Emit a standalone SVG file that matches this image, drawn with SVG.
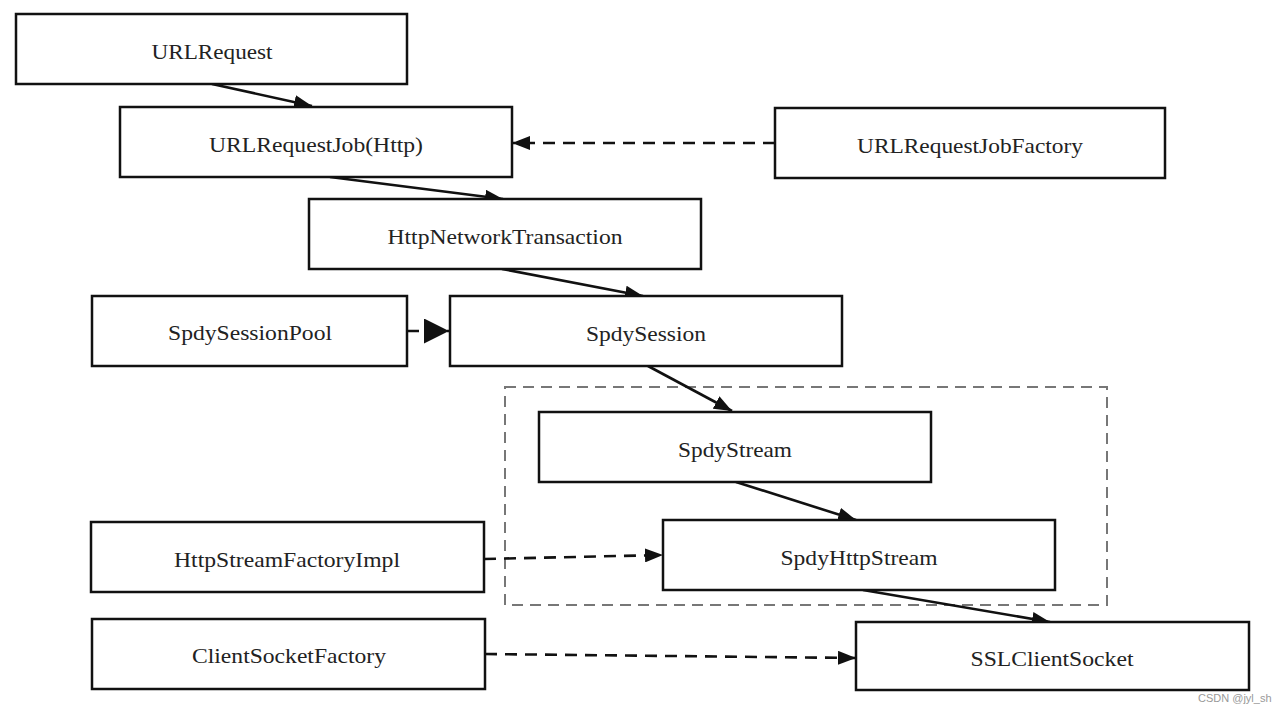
<svg xmlns="http://www.w3.org/2000/svg" width="1285" height="714" viewBox="0 0 1285 714">
<style>
.box{fill:#fff;stroke:#111;stroke-width:2.5}
.lbl{font-family:"Liberation Serif","Times New Roman",serif;font-size:21px;fill:#222;text-anchor:middle}
.edge{stroke:#111;stroke-width:2.6;fill:none}
.dash{stroke-dasharray:12 8}
.grp{fill:none;stroke:#777;stroke-width:2;stroke-dasharray:11 7}
.wm{font-family:"Liberation Sans",Arial,sans-serif;font-size:11px;fill:#999}
</style>
<defs>
<marker id="ah" markerUnits="userSpaceOnUse" markerWidth="18" markerHeight="14" refX="18" refY="7" orient="auto"><path d="M0,0 L18,7 L0,14 z" fill="#111"/></marker>
<marker id="ahBig" markerUnits="userSpaceOnUse" markerWidth="25" markerHeight="25" refX="25" refY="12.5" orient="auto"><path d="M0,0 L25,12.5 L0,25 z" fill="#111"/></marker>
</defs>
<rect width="1285" height="714" fill="#fff"/>
<g id="group-spdy"><rect class="grp" x="505" y="387" width="602" height="218"/></g>
<g id="connectors">
<line class="edge" x1="212" y1="84" x2="312" y2="106" marker-end="url(#ah)"/>
<line class="edge dash" x1="775" y1="143" x2="512" y2="143" marker-end="url(#ah)"/>
<line class="edge" x1="330" y1="177" x2="503" y2="199" marker-end="url(#ah)"/>
<line class="edge" x1="502" y1="269" x2="643" y2="296" marker-end="url(#ah)"/>
<line class="edge dash" x1="407" y1="331" x2="449" y2="331" marker-end="url(#ahBig)"/>
<line class="edge" x1="648" y1="366" x2="732" y2="411" marker-end="url(#ah)"/>
<line class="edge" x1="736" y1="482" x2="856" y2="520" marker-end="url(#ah)"/>
<line class="edge dash" x1="484" y1="559" x2="663" y2="555" marker-end="url(#ah)"/>
<line class="edge" x1="863" y1="590" x2="1050" y2="622" marker-end="url(#ah)"/>
<line class="edge dash" x1="485" y1="654" x2="856" y2="658" marker-end="url(#ah)"/>
</g>
<g id="n-urlrequest"><rect class="box" x="16" y="14" width="391" height="70"/><text class="lbl" x="212" y="59" textLength="121" lengthAdjust="spacingAndGlyphs">URLRequest</text></g>
<g id="n-urlrequestjob"><rect class="box" x="120" y="107" width="392" height="70"/><text class="lbl" x="316" y="152" textLength="214" lengthAdjust="spacingAndGlyphs">URLRequestJob(Http)</text></g>
<g id="n-urlrequestjobfactory"><rect class="box" x="775" y="108" width="390" height="70"/><text class="lbl" x="970" y="153" textLength="226" lengthAdjust="spacingAndGlyphs">URLRequestJobFactory</text></g>
<g id="n-httpnetworktransaction"><rect class="box" x="309" y="199" width="392" height="70"/><text class="lbl" x="505" y="244" textLength="235" lengthAdjust="spacingAndGlyphs">HttpNetworkTransaction</text></g>
<g id="n-spdysessionpool"><rect class="box" x="92" y="296" width="315" height="70"/><text class="lbl" x="250" y="340" textLength="164" lengthAdjust="spacingAndGlyphs">SpdySessionPool</text></g>
<g id="n-spdysession"><rect class="box" x="450" y="296" width="392" height="70"/><text class="lbl" x="646" y="341" textLength="120" lengthAdjust="spacingAndGlyphs">SpdySession</text></g>
<g id="n-spdystream"><rect class="box" x="539" y="412" width="392" height="70"/><text class="lbl" x="735" y="457" textLength="114" lengthAdjust="spacingAndGlyphs">SpdyStream</text></g>
<g id="n-spdyhttpstream"><rect class="box" x="663" y="520" width="392" height="70"/><text class="lbl" x="859" y="565" textLength="157" lengthAdjust="spacingAndGlyphs">SpdyHttpStream</text></g>
<g id="n-httpstreamfactoryimpl"><rect class="box" x="91" y="522" width="393" height="70"/><text class="lbl" x="287" y="567" textLength="226" lengthAdjust="spacingAndGlyphs">HttpStreamFactoryImpl</text></g>
<g id="n-clientsocketfactory"><rect class="box" x="92" y="619" width="393" height="70"/><text class="lbl" x="289" y="663" textLength="194" lengthAdjust="spacingAndGlyphs">ClientSocketFactory</text></g>
<g id="n-sslclientsocket"><rect class="box" x="856" y="622" width="393" height="68"/><text class="lbl" x="1052" y="666" textLength="163" lengthAdjust="spacingAndGlyphs">SSLClientSocket</text></g>
<text class="wm" x="1198" y="702">CSDN @jyl_sh</text>
</svg>
